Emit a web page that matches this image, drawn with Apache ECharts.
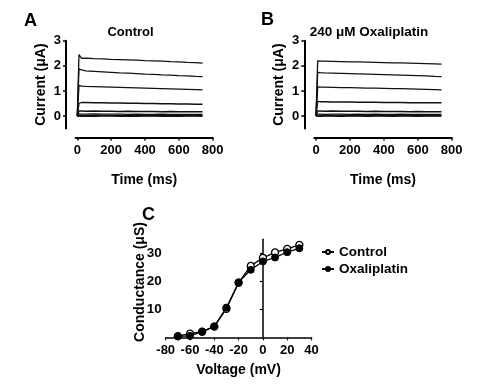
<!DOCTYPE html>
<html><head><meta charset="utf-8">
<script src="https://cdn.jsdelivr.net/npm/echarts@6/dist/echarts.min.js"></script>
<style>html,body{margin:0;padding:0;background:#fff}#c{width:500px;height:392px}</style>
</head><body><div id="c"></div>
<script>
// ---- data ----
var traceTime = [0, 10, 10, 25, 50, 100, 150, 200, 250, 300, 350, 400, 450, 500, 550, 600, 650, 700, 740];
var controlTraces = [
  [0, 0, 2.45, 2.30, 2.31, 2.29, 2.28, 2.26, 2.25, 2.24, 2.23, 2.21, 2.20, 2.19, 2.17, 2.16, 2.14, 2.13, 2.11],
  [0, 0, 1.88, 1.84, 1.80, 1.78, 1.76, 1.74, 1.72, 1.71, 1.69, 1.67, 1.66, 1.64, 1.63, 1.61, 1.60, 1.58, 1.57],
  [0, 0, 1.22, 1.19, 1.18, 1.17, 1.16, 1.15, 1.14, 1.13, 1.12, 1.11, 1.10, 1.09, 1.08, 1.07, 1.06, 1.05, 1.04],
  [0, 0, 0.50, 0.54, 0.54, 0.53, 0.53, 0.52, 0.52, 0.51, 0.51, 0.50, 0.50, 0.49, 0.49, 0.48, 0.48, 0.47, 0.47],
  [0, 0, 0.20, 0.20, 0.19, 0.20, 0.19, 0.19, 0.18, 0.19, 0.18, 0.18, 0.18, 0.17, 0.18, 0.17, 0.17, 0.17, 0.17],
  [0, 0, 0.09, 0.08, 0.08, 0.09, 0.08, 0.08, 0.08, 0.07, 0.08, 0.07, 0.07, 0.08, 0.07, 0.07, 0.07, 0.07, 0.07],
  [0, 0, 0.03, 0.03, 0.02, 0.03, 0.03, 0.02, 0.03, 0.02, 0.03, 0.02, 0.03, 0.02, 0.03, 0.02, 0.03, 0.02, 0.03],
  [0, 0, 0.00, -0.01, 0.00, -0.01, 0.00, 0.00, -0.01, 0.00, -0.01, 0.00, 0.00, -0.01, 0.00, -0.01, 0.00, 0.00, -0.01]
];
var oxaliTraces = [
  [0, 0, 2.20, 2.19, 2.19, 2.18, 2.17, 2.16, 2.16, 2.15, 2.14, 2.13, 2.12, 2.12, 2.11, 2.10, 2.09, 2.08, 2.07],
  [0, 0, 1.74, 1.73, 1.72, 1.71, 1.70, 1.69, 1.68, 1.67, 1.66, 1.65, 1.64, 1.63, 1.62, 1.61, 1.60, 1.58, 1.57],
  [0, 0, 1.16, 1.15, 1.15, 1.14, 1.13, 1.13, 1.12, 1.11, 1.11, 1.10, 1.09, 1.09, 1.08, 1.07, 1.06, 1.05, 1.04],
  [0, 0, 0.58, 0.57, 0.57, 0.56, 0.56, 0.56, 0.55, 0.55, 0.55, 0.54, 0.54, 0.54, 0.53, 0.53, 0.53, 0.53, 0.53],
  [0, 0, 0.20, 0.20, 0.19, 0.20, 0.19, 0.19, 0.19, 0.18, 0.19, 0.18, 0.18, 0.18, 0.17, 0.18, 0.17, 0.17, 0.17],
  [0, 0, 0.08, 0.08, 0.07, 0.08, 0.08, 0.07, 0.08, 0.07, 0.08, 0.07, 0.07, 0.08, 0.07, 0.07, 0.07, 0.07, 0.07],
  [0, 0, 0.03, 0.02, 0.03, 0.02, 0.03, 0.02, 0.03, 0.02, 0.03, 0.02, 0.03, 0.02, 0.03, 0.02, 0.03, 0.02, 0.02],
  [0, 0, 0.00, -0.01, 0.00, 0.00, -0.01, 0.00, 0.00, -0.01, 0.00, 0.00, -0.01, 0.00, 0.00, -0.01, 0.00, 0.00, 0.00]
];
var timeTicks = [0, 200, 400, 600, 800];
var currentTicks = [0, 1, 2, 3];
var voltage = [-70, -60, -50, -40, -30, -20, -10, 0, 10, 20, 30];
var conductanceControl = [0.4, 1.3, 2.0, 3.8, 10.2, 19.5, 25.5, 28.4, 30.3, 31.6, 33.0];
var conductanceOxali = [0.3, 0.5, 2.0, 3.9, 10.6, 19.6, 24.1, 27.1, 28.5, 30.4, 31.8];
var conductanceTicks = [10, 20, 30];

// ---- chart ----
var FONT = '"Liberation Sans", Arial, sans-serif';
var chart = echarts.init(document.getElementById('c'), null, {renderer: 'canvas'});

function traceAxisX(gi) {
  return {
    gridIndex: gi, type: 'value', min: -10, max: 800, position: 'bottom', offset: 9,
    name: 'Time (ms)', nameLocation: 'middle', nameGap: 36,
    nameTextStyle: {fontFamily: FONT, fontWeight: 'bold', fontSize: 14, color: '#000'},
    axisLine: {onZero: false, lineStyle: {color: '#000', width: 2}},
    axisTick: {show: true, length: 3, customValues: timeTicks, lineStyle: {color: '#000', width: 1.5}},
    axisLabel: {customValues: timeTicks, margin: 6, fontFamily: FONT, fontWeight: 'bold', fontSize: 13, color: '#000'},
    splitLine: {show: false}
  };
}
function traceAxisY(gi, off) {
  return {
    gridIndex: gi, type: 'value', min: -0.5, max: 3, position: 'left', offset: off,
    name: 'Current (μA)', nameLocation: 'middle', nameGap: 18, nameRotate: 90,
    nameTextStyle: {fontFamily: FONT, fontWeight: 'bold', fontSize: 14, color: '#000'},
    axisLine: {onZero: false, lineStyle: {color: '#000', width: 2}},
    axisTick: {show: true, length: 3, customValues: currentTicks, lineStyle: {color: '#000', width: 1.5}},
    axisLabel: {customValues: currentTicks, margin: 5, fontFamily: FONT, fontWeight: 'bold', fontSize: 13, color: '#000'},
    splitLine: {show: false}
  };
}

var series = [];
function addTraces(arr, idx) {
  arr.forEach(function (vals) {
    series.push({
      type: 'line', xAxisIndex: idx, yAxisIndex: idx, showSymbol: false, silent: true,
      data: traceTime.map(function (t, i) { return [t, vals[i]]; }),
      lineStyle: {color: '#111', width: 1.3}
    });
  });
}
addTraces(controlTraces, 0);
addTraces(oxaliTraces, 1);

series.push({
  name: 'Control', type: 'line', xAxisIndex: 2, yAxisIndex: 2, z: 3,
  data: voltage.map(function (v, i) { return [v, conductanceControl[i]]; }),
  symbol: 'circle', symbolSize: 7,
  lineStyle: {color: '#000', width: 1.3},
  itemStyle: {color: '#fff', borderColor: '#000', borderWidth: 1.3}
});
series.push({
  name: 'Oxaliplatin', type: 'line', xAxisIndex: 2, yAxisIndex: 2, z: 4,
  data: voltage.map(function (v, i) { return [v, conductanceOxali[i]]; }),
  symbol: 'circle', symbolSize: 7,
  lineStyle: {color: '#000', width: 1.3},
  itemStyle: {color: '#000', borderColor: '#000', borderWidth: 1}
});

chart.setOption({
  animation: false,
  backgroundColor: '#fff',
  textStyle: {fontFamily: FONT},
  grid: [
    {left: 75.6, top: 40.7, width: 137.1, height: 87.9},
    {left: 314.3, top: 40.7, width: 137.4, height: 87.9},
    {left: 165.7, top: 239.3, width: 145.8, height: 98}
  ],
  xAxis: [
    traceAxisX(0), traceAxisX(1),
    {
      gridIndex: 2, type: 'value', min: -80, max: 40, interval: 20,
      name: 'Voltage (mV)', nameLocation: 'middle', nameGap: 26,
      nameTextStyle: {fontFamily: FONT, fontWeight: 'bold', fontSize: 14, color: '#000'},
      axisLine: {onZero: false, lineStyle: {color: '#000', width: 1.5}},
      axisTick: {show: true, length: 3, lineStyle: {color: '#000', width: 1.2}},
      axisLabel: {margin: 7, fontFamily: FONT, fontWeight: 'bold', fontSize: 13, color: '#000'},
      splitLine: {show: false}
    }
  ],
  yAxis: [
    traceAxisY(0, 9.6), traceAxisY(1, 10),
    {
      gridIndex: 2, type: 'value', min: 0, max: 35,
      axisLine: {onZero: true, lineStyle: {color: '#000', width: 1.5}},
      axisTick: {show: true, length: 3, customValues: conductanceTicks, lineStyle: {color: '#000', width: 1.2}},
      axisLabel: {customValues: conductanceTicks, margin: 4, fontFamily: FONT, fontWeight: 'bold', fontSize: 13.5, color: '#000'},
      splitLine: {show: false}
    }
  ],
  legend: {
    data: ['Control', 'Oxaliplatin'], orient: 'vertical', left: 321, top: 245, padding: 0,
    itemWidth: 12, itemHeight: 5, itemGap: 3,
    textStyle: {fontFamily: FONT, fontWeight: 'bold', fontSize: 13.5, color: '#000'},
    selectedMode: false
  },
  graphic: [
    {type: 'text', left: 24, top: 12, style: {text: 'A', font: 'bold 18px ' + FONT, fill: '#000'}},
    {type: 'text', left: 261, top: 11, style: {text: 'B', font: 'bold 18px ' + FONT, fill: '#000'}},
    {type: 'text', left: 142, top: 206, style: {text: 'C', font: 'bold 18px ' + FONT, fill: '#000'}},
    {type: 'text', x: 130.5, y: 32, style: {text: 'Control', font: 'bold 13px ' + FONT, fill: '#000', textAlign: 'center', textVerticalAlign: 'middle'}},
    {type: 'text', x: 369, y: 32, style: {text: '240 μM Oxaliplatin', font: 'bold 13.5px ' + FONT, fill: '#000', textAlign: 'center', textVerticalAlign: 'middle'}},
    {type: 'text', x: 140, y: 282, rotation: Math.PI / 2, style: {text: 'Conductance (μS)', font: 'bold 14px ' + FONT, fill: '#000', textAlign: 'center', textVerticalAlign: 'middle'}}
  ],
  series: series
});
</script>
</body></html>
